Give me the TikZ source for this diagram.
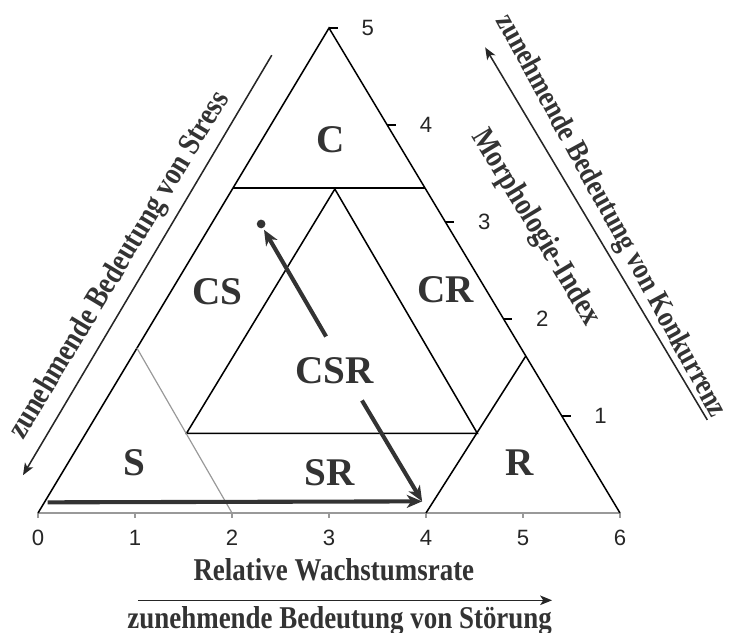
\documentclass[tikz,border=0pt]{standalone}
\usepackage{fontspec}
\setmainfont{Liberation Serif}
\setsansfont{Liberation Sans}
\newfontfamily\narrowserif[FakeStretch=0.85]{Liberation Serif}
\usetikzlibrary{arrows.meta}

\begin{document}
\begin{tikzpicture}[
  x=1cm, y=1cm,
  border/.style={draw, line width=0.45pt},
  faint/.style={draw=black!40, line width=0.35pt},
  region/.style={font=\bfseries\fontsize{11.5}{12}\selectfont, text=black!80},
  axistext/.style={font=\narrowserif\bfseries\fontsize{9.3}{10}\selectfont, text=black!80, inner sep=1pt},
  ticktext/.style={font=\sffamily\fontsize{6.5}{7}\selectfont, text=black!85},
  trend/.style={draw=black!80, line width=1.2pt, -{Stealth[length=4.5pt, width=3.8pt, inset=1.3pt]}},
  hint/.style={draw=black!85, line width=0.45pt, -{Stealth[length=3.5pt, width=2.8pt, inset=0.9pt]}}
  ]
  \useasboundingbox (-0.392,-1.237) rectangle (7.134,5.289);

  \coordinate (o) at (0,0);
  \coordinate (e) at (6,0);
  \coordinate (t) at (3,5);
  \coordinate (cl) at (2.01,3.35);
  \coordinate (cr) at (3.99,3.35);
  \coordinate (il) at (1.53,0.82);
  \coordinate (ir) at (4.53,0.82);
  \coordinate (it) at (3.06,3.34);
  \coordinate (sl) at (1.02,1.70);
  \coordinate (sb) at (2,0);
  \coordinate (rb) at (4,0);
  \coordinate (rr) at (5.03,1.62);

  \path[faint] (o) -- (e);
  \foreach \i in {0,...,6} {
    \draw[faint] (\i,0) -- (\i,-0.05);
    \node[ticktext] (bx\i) at (\i,-0.26) {\i};
  }
  \foreach \i in {1,...,5} {
    \draw[border] ({6-0.6*\i},\i) -- ++(0.09,0);
    \node[ticktext] (my\i) at ({6.4-0.6*\i},\i) {\i};
  }

  \path[border] (o) -- (t) -- (e);
  \path[border] (cl) -- (cr);
  \path[border] (il) -- (it) -- (ir) -- cycle;
  \path[border] (rb) -- (rr);
  \path[faint] (sl) -- (sb);

  \node[region] (c) at (3.02,3.85) {C};
  \node[region] (cs) at (1.85,2.28) {CS};
  \node[region] (cr) at (4.20,2.30) {CR};
  \node[region] (csr) at (3.06,1.47) {CSR};
  \node[region] (s) at (0.99,0.52) {S};
  \node[region] (sr) at (3.01,0.42) {SR};
  \node[region] (r) at (4.97,0.52) {R};

  \coordinate (p0) at (2.97,1.82);
  \coordinate (p1) at (2.33,2.92);
  \fill[black!80] (2.30,2.98) circle (0.045);
  \draw[trend] (p0) -- (p1);
  \coordinate (q0) at (3.34,1.16);
  \coordinate (q1) at (3.96,0.12);
  \draw[trend] (q0) -- (q1);
  \coordinate (h0) at (0.10,0.11);
  \draw[trend] (h0) -- (q1);

  \node[axistext] (rate) at (3.05,-0.59) {Relative Wachstumsrate};
  \node[axistext, rotate=-59] (morph) at (5.13,2.94) {Morphologie-Index};

  \coordinate (ds0) at (1.03,-0.90);
  \coordinate (ds1) at (5.30,-0.90);
  \draw[hint] (ds0) -- (ds1);
  \node[axistext] (disturb) at (3.11,-1.11) {zunehmende Bedeutung von Störung};

  \coordinate (st0) at (2.41,4.72);
  \coordinate (st1) at (-0.155,0.39);
  \draw[hint] (st0) -- (st1);
  \node[axistext, rotate=59] (stress) at (0.845,2.55) {zunehmende Bedeutung von Stress};

  \coordinate (ko0) at (6.90,0.96);
  \coordinate (ko1) at (4.61,4.80);
  \draw[hint] (ko0) -- (ko1);
  \node[axistext, inner sep=0pt, font=\narrowserif\bfseries\fontsize{8.9}{10}\selectfont, rotate=-61.5] (konk) at (5.90,3.06) {zunehmende Bedeutung von Konkurrenz};
\end{tikzpicture}
\end{document}
